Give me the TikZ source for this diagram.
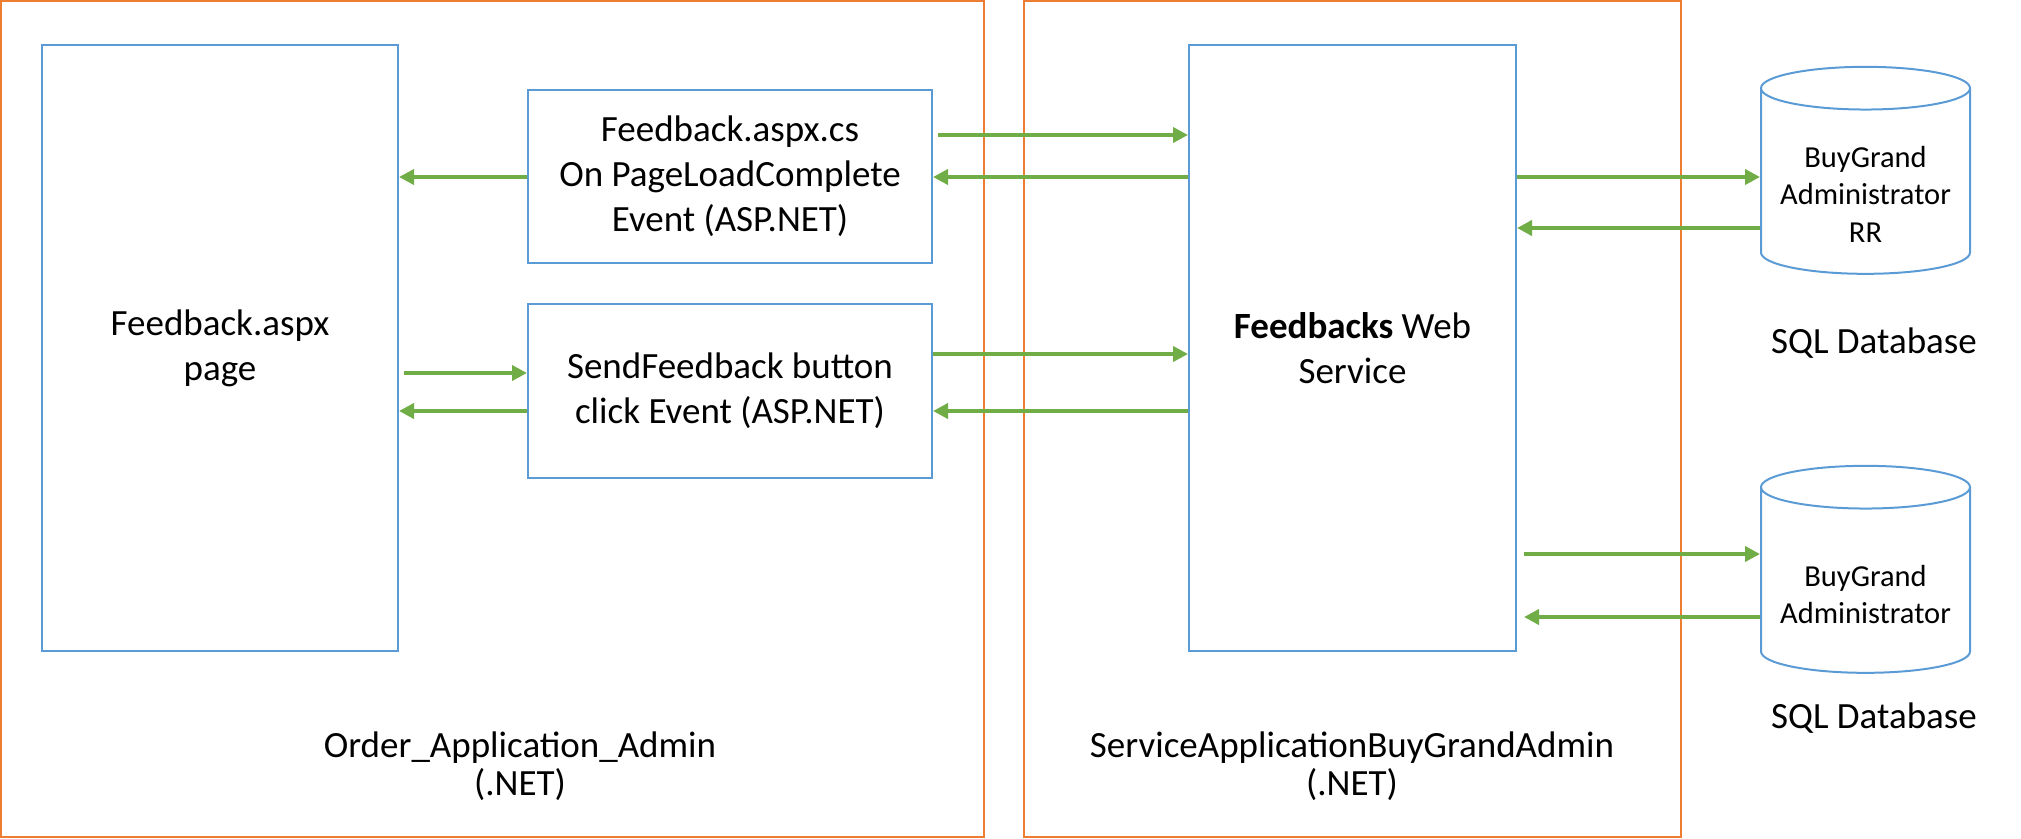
\documentclass[tikz,border=0pt]{standalone}
\usepackage{fontspec}
\setmainfont{Carlito}
\usepackage{tikz}
\usetikzlibrary{arrows.meta,shapes.geometric}
\definecolor{frameorange}{HTML}{ED7D31}
\definecolor{boxblue}{HTML}{5B9BD5}
\definecolor{flowgreen}{HTML}{70AD47}

\begin{document}
\begin{tikzpicture}[
  x=1pt, y=-1pt,
  frame/.style={draw=frameorange, line width=2.5pt, inner sep=0pt},
  box/.style={draw=boxblue, line width=2pt, inner sep=0pt, align=center,
              font=\fontsize{37}{45}\selectfont},
  db/.style={box, cylinder, shape border rotate=90, aspect=0.25,
             minimum width=209pt, minimum height=207pt,
             font=\fontsize{30.5}{37.5}\selectfont},
  lbl/.style={align=center, inner sep=0pt, font=\fontsize{37}{38}\selectfont},
  flow/.style={draw=flowgreen, line width=4.5pt,
               -{Triangle[length=15pt,width=15pt]}}
]
\useasboundingbox (0,0) rectangle (2021,838);

% application frames
\node[frame, minimum width=983pt, minimum height=836pt] (orderapp) at (492.5,419) {};
\node[frame, minimum width=657pt, minimum height=836pt] (serviceapp) at (1352.5,419) {};

\node[box, minimum width=356pt, minimum height=606pt] (page) at (220,348) {Feedback.aspx\\page};
\node[box, minimum width=404pt, minimum height=173pt] (cs) at (730,176.5) {Feedback.aspx.cs\\On PageLoadComplete\\Event (ASP.NET)};
\node[box, minimum width=404pt, minimum height=174pt] (send) at (730,391) {SendFeedback button\\click Event (ASP.NET)};
\node[box, minimum width=327pt, minimum height=606pt] (svc) at (1352.5,348) {\textbf{Feedbacks} Web\\Service};
\node[db, text height=121pt] (dbrr) at (1865.5,181.5) {BuyGrand\\Administrator\\RR};
\node[db, text height=87pt] (dbadmin) at (1865.5,580.5) {BuyGrand\\Administrator};

\node[lbl, anchor=base] (sqlrr) at (1874,353) {SQL Database};
\node[lbl, anchor=base] (sqladmin) at (1874,728) {SQL Database};
\node[lbl, anchor=north] (orderlbl) at (520,732) {Order\_Application\_Admin\\(.NET)};
\node[lbl, anchor=north] (servicelbl) at (1352,732) {ServiceApplicationBuyGrandAdmin\\(.NET)};

% calls
\draw[flow, shorten <=5pt] (cs.east |- 0,135) -- (svc.west |- 0,135);
\draw[flow] (svc.west |- 0,177) -- (cs.east |- 0,177);
\draw[flow] (cs.west |- 0,177) -- (page.east |- 0,177);
\draw[flow, shorten <=5pt] (page.east |- 0,373) -- (send.west |- 0,373);
\draw[flow] (send.west |- 0,411) -- (page.east |- 0,411);
\draw[flow] (send.east |- 0,354) -- (svc.west |- 0,354);
\draw[flow] (svc.west |- 0,411) -- (send.east |- 0,411);
\draw[flow] (svc.east |- 0,177) -- (dbrr.west |- 0,177);
\draw[flow] (dbrr.west |- 0,228) -- (svc.east |- 0,228);
\draw[flow, shorten <=7pt] (svc.east |- 0,554) -- (dbadmin.west |- 0,554);
\draw[flow, shorten >=7pt] (dbadmin.west |- 0,617) -- (svc.east |- 0,617);
\end{tikzpicture}
\end{document}
